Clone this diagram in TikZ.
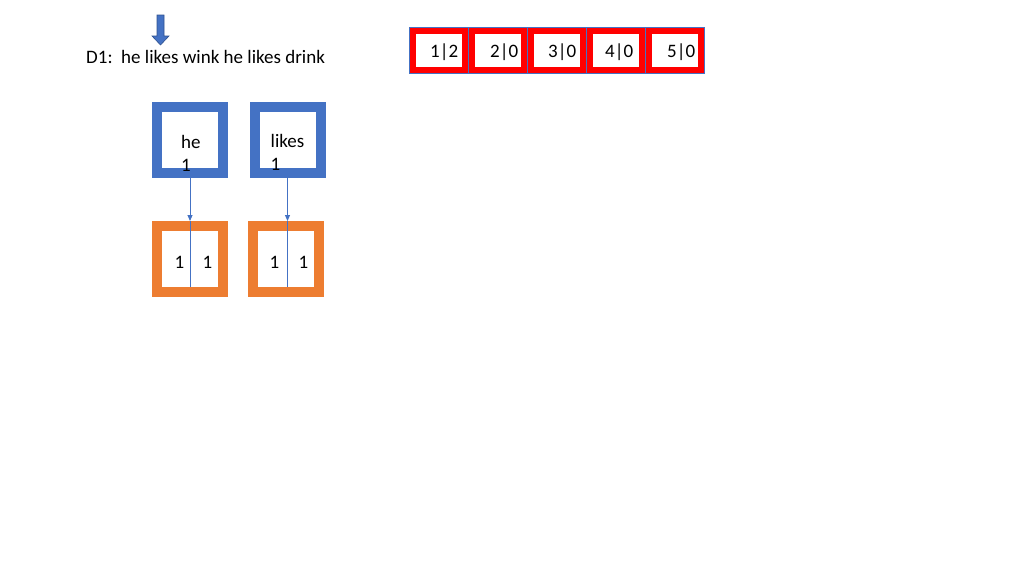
\documentclass[tikz,border=0pt]{standalone}
\usepackage{fontspec}
\setmainfont{Carlito}
\usetikzlibrary{arrows.meta}
\definecolor{pblue}{HTML}{4472C4}
\definecolor{pdblue}{HTML}{2F528F}
\definecolor{porange}{HTML}{ED7D31}
\definecolor{pred}{HTML}{FF0000}
\tikzset{
  txt/.style={inner sep=0pt, anchor=base west, font=\fontsize{19}{23}\selectfont},
  bluebox/.style={draw=pblue, line width=10pt, minimum size=66pt, inner sep=0pt, fill=white},
  orangebox/.style={draw=porange, line width=10pt, minimum size=66pt, inner sep=0pt, fill=white},
  cellbox/.style={draw=pblue, line width=0.8pt, fill=pred, minimum width=59pt, minimum height=46pt, inner sep=0pt,
    path picture={\fill[white] ([xshift=6.5pt,yshift=-6.5pt]path picture bounding box.north west) rectangle ([xshift=-6.5pt,yshift=6.5pt]path picture bounding box.south east);}},
  conn/.style={draw=pblue, line width=0.9pt, -{Triangle[width=5pt,length=6pt]}},
  divider/.style={draw=pblue, line width=0.9pt},
  bigarrow/.style={fill=pblue, draw=pdblue, line width=0.6pt}
}
\begin{document}
\begin{tikzpicture}[x=1pt,y=-1pt]
\useasboundingbox (0,0) rectangle (1024,576);
% big down arrow
\filldraw[bigarrow] (157,15) -- (164,15) -- (164,36) -- (169,36) -- (160.5,45) -- (152,36) -- (157,36) -- cycle;
\node[txt] (title) at (86,63) {D1:\ \ he likes wink he likes drink};
% cells
\node[cellbox] (c1) at (438.5,50) {};
\node[cellbox] (c2) at (497.5,50) {};
\node[cellbox] (c3) at (556.5,50) {};
\node[cellbox] (c4) at (615.5,50) {};
\node[cellbox] (c5) at (674.5,50) {};
\node[txt] (t1) at (430,57) {1|2};
\node[txt] (t2) at (490,57) {2|0};
\node[txt] (t3) at (548,57) {3|0};
\node[txt] (t4) at (605,57) {4|0};
\node[txt] (t5) at (667,57) {5|0};
% blue boxes
\node[bluebox] (he) at (190,140) {};
\node[bluebox] (likes) at (287.5,140) {};
\node[txt, align=left] (hetxt) at (181,171) {he\\1};
\node[txt, align=left] (likestxt) at (270.5,170) {likes\\1};
% orange boxes
\node[orangebox] (heL) at (190,259) {};
\node[orangebox] (likesL) at (286,259) {};
\node[txt] (a1) at (174.5,268) {1};
\node[txt] (a2) at (202.5,268) {1};
\node[txt] (b1) at (269.5,268) {1};
\node[txt] (b2) at (298.5,268) {1};
% connectors
\draw[conn] (he.south) -- (heL.north);
\draw[conn] (likes.south) -- (likesL.north -| likes.south);
\draw[divider] (heL.north) -- ([yshift=10pt]heL.south);
\draw[divider] (likesL.north -| likes.south) -- ([yshift=10pt]likesL.south -| likes.south);
\end{tikzpicture}
\end{document}
